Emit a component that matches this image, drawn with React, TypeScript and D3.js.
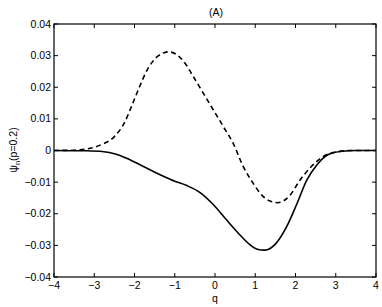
import React from "react";
import * as d3 from "d3";

const xTicks = [-4, -3, -2, -1, 0, 1, 2, 3, 4];
const yTicks = [-0.04, -0.03, -0.02, -0.01, 0, 0.01, 0.02, 0.03, 0.04];

const dashedQ = [-4, -3.5, -3.1, -2.85, -2.5, -2.25, -2.05, -1.88, -1.68, -1.45, -1.15, -0.95, -0.75, -0.54, -0.29, -0.04, 0.21, 0.45, 0.7, 0.95, 1.2, 1.37, 1.56, 1.86, 2.11, 2.4, 2.69, 3.02, 3.4, 4];
const dashedV = [0, 0.0001, 0.0007, 0.0017, 0.0044, 0.0088, 0.0147, 0.0200, 0.0256, 0.0295, 0.0312, 0.0303, 0.0277, 0.0234, 0.0181, 0.0128, 0.0075, 0.0023, -0.0050, -0.0104, -0.0146, -0.0160, -0.0165, -0.0142, -0.0094, -0.0050, -0.0019, -0.0004, 0, 0];

const solidQ = [-4, -3.2, -2.76, -2.5, -2.18, -1.85, -1.52, -1.27, -1.0, -0.7, -0.37, -0.05, 0.29, 0.62, 0.87, 1.05, 1.24, 1.5, 1.78, 2.03, 2.28, 2.53, 2.78, 3.11, 3.5, 4];
const solidV = [0, -0.0001, -0.0004, -0.0010, -0.0025, -0.0046, -0.0067, -0.0082, -0.0097, -0.0111, -0.0133, -0.0170, -0.0220, -0.0267, -0.0298, -0.0312, -0.0315, -0.0296, -0.0241, -0.0170, -0.0094, -0.0046, -0.0015, -0.0003, 0, 0];

const W = 382, H = 307;
const L = 54, R = 376, T = 24, B = 277;

const fmt = (v: number) => {
  if (v === 0) return "0";
  const s = Math.abs(v).toFixed(2);
  return (v < 0 ? "\u2212" : "") + s;
};
const fmtX = (v: number) => (v < 0 ? "\u2212" + Math.abs(v) : String(v));

export default function App() {
  const x = d3.scaleLinear().domain([-4, 4]).range([L, R]);
  const y = d3.scaleLinear().domain([-0.04, 0.04]).range([B, T]);
  const line = d3
    .line<[number, number]>()
    .x((d) => x(d[0]))
    .y((d) => y(d[1]))
    .curve(d3.curveMonotoneX);
  const dashed = line(dashedQ.map((q, i) => [q, dashedV[i]]) as [number, number][]) || "";
  const solid = line(solidQ.map((q, i) => [q, solidV[i]]) as [number, number][]) || "";
  const font = "'Liberation Sans', Arial, Helvetica, sans-serif";
  const tl = 4;
  return (
    <svg
      width={W}
      height={H}
      style={{ position: "absolute", left: 0, top: 0, background: "#fff" }}
      fontFamily={font}
    >
      <rect x={0} y={0} width={W} height={H} fill="#fff" />
      <path d={dashed} fill="none" stroke="#000" strokeWidth={1.6} strokeDasharray="5,3.5" />
      <path d={solid} fill="none" stroke="#000" strokeWidth={1.6} />
      <rect x={L} y={T} width={R - L} height={B - T} fill="none" stroke="#000" strokeWidth={1.2} />
      {xTicks.map((t) => (
        <g key={"x" + t}>
          <line x1={x(t)} x2={x(t)} y1={B} y2={B - tl} stroke="#000" />
          <line x1={x(t)} x2={x(t)} y1={T} y2={T + tl} stroke="#000" />
          <text x={x(t)} y={289} fontSize={10.5} textAnchor="middle">
            {fmtX(t)}
          </text>
        </g>
      ))}
      {yTicks.map((t) => (
        <g key={"y" + t}>
          <line x1={L} x2={L + tl} y1={y(t)} y2={y(t)} stroke="#000" />
          <line x1={R} x2={R - tl} y1={y(t)} y2={y(t)} stroke="#000" />
          <text x={51} y={y(t) + 3.5} fontSize={10.5} textAnchor="end">
            {fmt(t)}
          </text>
        </g>
      ))}
      <text x={215} y={302} fontSize={10.5} textAnchor="middle">
        q
      </text>
      <text x={216} y={16} fontSize={10.5} textAnchor="middle">
        (A)
      </text>
      <text transform={`translate(17,150) rotate(-90)`} fontSize={10.5} textAnchor="middle">
        ψ
        <tspan fontSize={7.5} dy={3}>n</tspan>
        <tspan dy={-3}>(p=0.2)</tspan>
      </text>
    </svg>
  );
}
